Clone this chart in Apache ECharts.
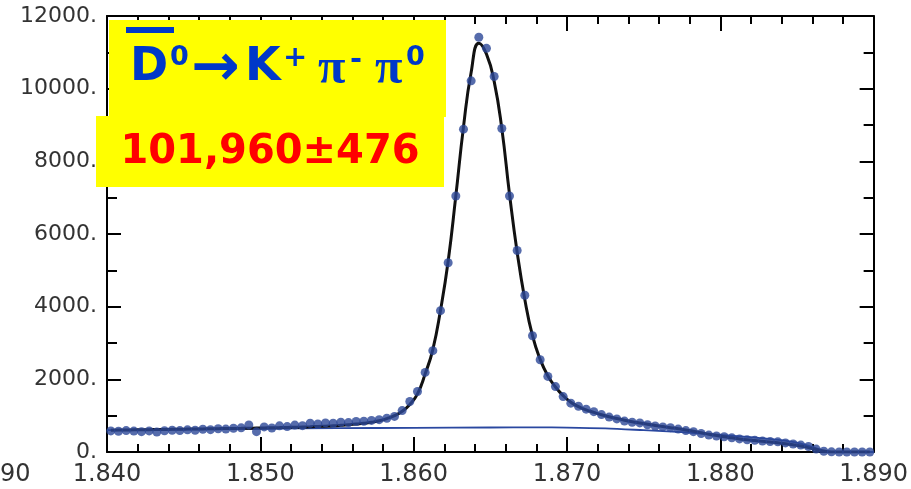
<!DOCTYPE html>
<html style="height: 100%">
<head>
    <meta charset="UTF-8">
    <title>D0 mass fit</title>
    <script type="text/javascript" src="https://cdn.jsdelivr.net/npm/echarts/dist/echarts.min.js"></script>
</head>
<body style="height: 100%; margin: 0; background: #fff">
    <div id="container" style="width: 911px; height: 489px"></div>
<script>
    // bin centres (GeV), 0.5 MeV bins
    var mass = [
        1.84025,1.84075,1.84125,1.84175,1.84225,1.84275,1.84325,1.84375,1.84425,1.84475,
        1.84525,1.84575,1.84625,1.84675,1.84725,1.84775,1.84825,1.84875,1.84925,1.84975,
        1.85025,1.85075,1.85125,1.85175,1.85225,1.85275,1.85325,1.85375,1.85425,1.85475,
        1.85525,1.85575,1.85625,1.85675,1.85725,1.85775,1.85825,1.85875,1.85925,1.85975,
        1.86025,1.86075,1.86125,1.86175,1.86225,1.86275,1.86325,1.86375,1.86425,1.86475,
        1.86525,1.86575,1.86625,1.86675,1.86725,1.86775,1.86825,1.86875,1.86925,1.86975,
        1.87025,1.87075,1.87125,1.87175,1.87225,1.87275,1.87325,1.87375,1.87425,1.87475,
        1.87525,1.87575,1.87625,1.87675,1.87725,1.87775,1.87825,1.87875,1.87925,1.87975,
        1.88025,1.88075,1.88125,1.88175,1.88225,1.88275,1.88325,1.88375,1.88425,1.88475,
        1.88525,1.88575,1.88625,1.88675,1.88725,1.88775,1.88825,1.88875,1.88925,1.88975
    ];
    // events per bin
    var counts = [
        580,570,590,575,560,580,550,585,600,590,
        610,600,625,615,640,630,655,665,745,560,
        690,660,720,700,740,725,790,770,800,790,
        820,810,840,845,870,890,930,980,1140,1390,
        1665,2190,2790,3890,5210,7045,8885,10215,11415,11110,
        10335,8905,7045,5545,4315,3200,2540,2080,1800,1525,
        1345,1260,1180,1110,1030,960,910,850,820,800,
        750,715,690,670,630,590,560,510,465,440,
        420,390,360,335,320,300,290,280,250,220,
        190,150,80,20,5,0,0,0,0,0
    ];
    // total fit at the bin centres
    var fitTotal = [
        600,603,606,609,612,615,618,621,624,627,
        630,633,636,639,642,645,648,651,655,659,
        663,667,671,676,681,688,695,703,712,722,
        735,750,768,790,820,860,920,1000,1120,1310,
        1600,2150,2820,3900,5250,7050,8950,10450,11250,10950,
        10200,8900,7100,5500,4200,3200,2550,2100,1790,1550,
        1370,1250,1160,1090,1025,970,920,875,835,800,
        765,730,700,670,640,605,570,530,490,455,
        420,390,360,335,315,295,275,255,230,200,
        165,120,70,25,0,0,0,0,0,0
    ];
    // background component
    var bkgMass = [1.840,1.850,1.855,1.860,1.865,1.868,1.870,1.8725,1.875,1.8775,1.880,1.8825,1.885,1.8865,1.887,1.890];
    var bkgVal  = [600,640,655,665,675,678,672,650,600,545,470,390,260,70,0,0];

    var xTicks = [1.840, 1.850, 1.860, 1.870, 1.880, 1.890];
    var yTicks = [0, 2000, 4000, 6000, 8000, 10000, 12000];

    function zip(a, b) {
        var out = [];
        for (var i = 0; i < a.length; i++) out.push([a[i], b[i]]);
        return out;
    }

    var chart = echarts.init(document.getElementById('container'));
    var frame = {show: true, onZero: false, lineStyle: {color: '#000', width: 2}};

    function xAxisOf(pos, showLabel) {
        return {
            type: 'value', position: pos,
            min: xTicks[0], max: xTicks[xTicks.length - 1], interval: 0.01,
            axisLine: frame,
            axisTick: {inside: true, length: 15, lineStyle: {color: '#000', width: 2}},
            minorTick: {show: true, splitNumber: 5, length: 8, lineStyle: {color: '#000', width: 2}},
            splitLine: {show: false},
            axisLabel: {show: showLabel, margin: 11, fontSize: 24, fontFamily: 'DejaVu Sans', color: '#333',
                formatter: function (v) { return v.toFixed(3); }}
        };
    }
    function yAxisOf(pos, showLabel) {
        return {
            type: 'value', position: pos,
            min: yTicks[0], max: yTicks[yTicks.length - 1], interval: 2000,
            axisLine: frame,
            axisTick: {inside: true, length: 14, lineStyle: {color: '#000', width: 2}},
            minorTick: {show: true, splitNumber: 2, length: 10, lineStyle: {color: '#000', width: 2}},
            splitLine: {show: false},
            axisLabel: {show: showLabel, margin: 10, fontSize: 22, fontFamily: 'DejaVu Sans', color: '#333',
                formatter: function (v) { return v + '.'; }}
        };
    }

    var blue = '#0038c8';
    var option = {
        animation: false,
        grid: {left: 107, right: 37, top: 16, bottom: 37},
        xAxis: [xAxisOf('bottom', true), xAxisOf('top', false)],
        yAxis: [yAxisOf('left', true), yAxisOf('right', false)],
        series: [
            {
                type: 'line', data: zip(bkgMass, bkgVal), smooth: 0.3,
                symbol: 'none', lineStyle: {color: '#2a48a0', width: 1.8}, z: 2
            },
            {
                type: 'line', data: zip(mass, fitTotal), smooth: 0.5,
                symbol: 'none', lineStyle: {color: '#111', width: 3}, z: 3
            },
            {
                type: 'scatter', data: zip(mass, counts), symbolSize: 9,
                itemStyle: {color: '#2c4797'}, z: 4
            }
        ],
        graphic: [
            {type: 'rect', z: 100, shape: {x: 109, y: 20, width: 337, height: 97}, style: {fill: '#ffff00'}},
            {type: 'rect', z: 100, shape: {x: 96, y: 116, width: 348, height: 71}, style: {fill: '#ffff00'}},
            {type: 'rect', z: 101, shape: {x: 126, y: 27, width: 48, height: 6}, style: {fill: blue}},
            {type: 'text', z: 101, style: {text: 'D', x: 130, y: 68, fill: blue, font: 'bold 46px "DejaVu Sans"', textVerticalAlign: 'middle'}},
            {type: 'text', z: 101, style: {text: '0', x: 170, y: 58, fill: blue, font: 'bold 27px "DejaVu Sans"', textVerticalAlign: 'middle'}},
            {type: 'text', z: 101, style: {text: '\u2192', x: 191, y: 70, fill: blue, font: 'bold 58px "DejaVu Sans"', textVerticalAlign: 'middle'}},
            {type: 'text', z: 101, style: {text: 'K', x: 245, y: 68, fill: blue, font: 'bold 46px "DejaVu Sans"', textVerticalAlign: 'middle'}},
            {type: 'text', z: 101, style: {text: '+', x: 283, y: 58, fill: blue, font: 'bold 29px "DejaVu Sans"', textVerticalAlign: 'middle'}},
            {type: 'text', z: 101, style: {text: '\u03c0', x: 318, y: 70, fill: blue, font: 'bold 50px "Liberation Serif"', textVerticalAlign: 'middle'}},
            {type: 'text', z: 101, style: {text: '-', x: 350, y: 60, fill: blue, font: 'bold 29px "DejaVu Sans"', textVerticalAlign: 'middle'}},
            {type: 'text', z: 101, style: {text: '\u03c0', x: 375, y: 70, fill: blue, font: 'bold 50px "Liberation Serif"', textVerticalAlign: 'middle'}},
            {type: 'text', z: 101, style: {text: '0', x: 406, y: 58, fill: blue, font: 'bold 27px "DejaVu Sans"', textVerticalAlign: 'middle'}},
            {type: 'text', z: 101, style: {text: '101,960\u00b1476', x: 270, y: 153, fill: '#ff0000', font: 'bold 40px "DejaVu Sans"', textAlign: 'center', textVerticalAlign: 'middle'}},
            {type: 'text', z: 101, style: {text: '90', x: 0, y: 475, fill: '#333', font: '24px "DejaVu Sans"', textVerticalAlign: 'middle'}}
        ]
    };
    chart.setOption(option);
</script>
</body>
</html>
